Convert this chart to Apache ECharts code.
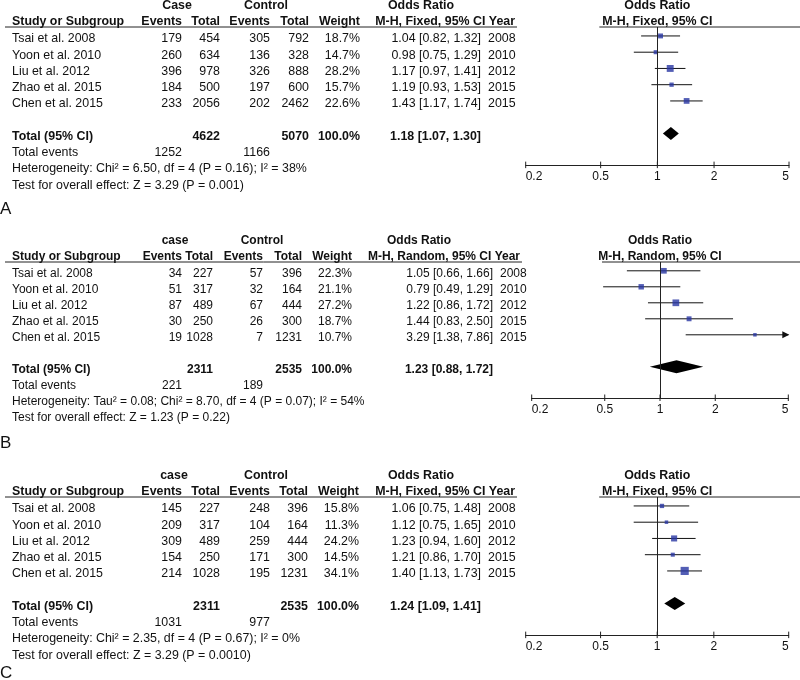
<!DOCTYPE html>
<html><head><meta charset="utf-8">
<script src="https://cdn.jsdelivr.net/npm/echarts@6/dist/echarts.min.js"></script>
<style>html,body{margin:0;padding:0;background:#fff}#c{width:800px;height:680px}</style>
</head><body><div id="c"></div>
<script>
// ---------- DATA ----------
const studies = ['Tsai et al. 2008', 'Yoon et al. 2010', 'Liu et al. 2012', 'Zhao et al. 2015', 'Chen et al. 2015'];
const years = ['2008', '2010', '2012', '2015', '2015'];
const tickValues = [0.2, 0.5, 1, 2, 5];
const tickLabels = ['0.2', '0.5', '1', '2', '5'];

// Panel A
const caseEventsA = [179, 260, 396, 184, 233];
const caseTotalA = [454, 634, 978, 500, 2056];
const ctrlEventsA = [305, 136, 326, 197, 202];
const ctrlTotalA = [792, 328, 888, 600, 2462];
const weightA = [18.7, 14.7, 28.2, 15.7, 22.6];
const orA = [1.04, 0.98, 1.17, 1.19, 1.43];
const loA = [0.82, 0.75, 0.97, 0.93, 1.17];
const hiA = [1.32, 1.29, 1.41, 1.53, 1.74];
const pooledA = [1.18, 1.07, 1.30];
const totalsA = [4622, 5070];
const totalEventsA = [1252, 1166];
const hetA = 'Heterogeneity: Chi² = 6.50, df = 4 (P = 0.16); I² = 38%';
const testA = 'Test for overall effect: Z = 3.29 (P = 0.001)';

// Panel B
const caseEventsB = [34, 51, 87, 30, 19];
const caseTotalB = [227, 317, 489, 250, 1028];
const ctrlEventsB = [57, 32, 67, 26, 7];
const ctrlTotalB = [396, 164, 444, 300, 1231];
const weightB = [22.3, 21.1, 27.2, 18.7, 10.7];
const orB = [1.05, 0.79, 1.22, 1.44, 3.29];
const loB = [0.66, 0.49, 0.86, 0.83, 1.38];
const hiB = [1.66, 1.29, 1.72, 2.50, 7.86];
const pooledB = [1.23, 0.88, 1.72];
const totalsB = [2311, 2535];
const totalEventsB = [221, 189];
const hetB = 'Heterogeneity: Tau² = 0.08; Chi² = 8.70, df = 4 (P = 0.07); I² = 54%';
const testB = 'Test for overall effect: Z = 1.23 (P = 0.22)';

// Panel C
const caseEventsC = [145, 209, 309, 154, 214];
const caseTotalC = [227, 317, 489, 250, 1028];
const ctrlEventsC = [248, 104, 259, 171, 195];
const ctrlTotalC = [396, 164, 444, 300, 1231];
const weightC = [15.8, 11.3, 24.2, 14.5, 34.1];
const orC = [1.06, 1.12, 1.23, 1.21, 1.40];
const loC = [0.75, 0.75, 0.94, 0.86, 1.13];
const hiC = [1.48, 1.65, 1.60, 1.70, 1.73];
const pooledC = [1.24, 1.09, 1.41];
const totalsC = [2311, 2535];
const totalEventsC = [1031, 977];
const hetC = 'Heterogeneity: Chi² = 2.35, df = 4 (P = 0.67); I² = 0%';
const testC = 'Test for overall effect: Z = 3.29 (P = 0.0010)';

// ---------- PANELS (built from the arrays) ----------
const panels = [
  { letter: 'A', caseHead: 'Case', method: 'M-H, Fixed, 95% CI',
    ce: caseEventsA, ct: caseTotalA, ke: ctrlEventsA, kt: ctrlTotalA, w: weightA,
    or: orA, lo: loA, hi: hiA, pooled: pooledA, totals: totalsA, tev: totalEventsA, het: hetA, test: testA,
    L: { top: 27, unit: 16.25, gl: 525.7, gw: 263.3, fs: 12.4, evR: 182, totR: 220, cevR: 270, ctotR: 309, wR: 360,
         orR: 481, yearL: 488, headR: 515, caseC: 177, ctrlC: 266, orHeadC: 421, letterY: 209 } },
  { letter: 'B', caseHead: 'case', method: 'M-H, Random, 95% CI',
    ce: caseEventsB, ct: caseTotalB, ke: ctrlEventsB, kt: ctrlTotalB, w: weightB,
    or: orB, lo: loB, hi: hiB, pooled: pooledB, totals: totalsB, tev: totalEventsB, het: hetB, test: testB,
    L: { top: 262, unit: 16, gl: 531.7, gw: 256.6, fs: 12, evR: 182, totR: 213, cevR: 263, ctotR: 302, wR: 352,
         orR: 493, yearL: 500, headR: 520, caseC: 175, ctrlC: 262, orHeadC: 419, letterY: 443 } },
  { letter: 'C', caseHead: 'case', method: 'M-H, Fixed, 95% CI',
    ce: caseEventsC, ct: caseTotalC, ke: ctrlEventsC, kt: ctrlTotalC, w: weightC,
    or: orC, lo: loC, hi: hiC, pooled: pooledC, totals: totalsC, tev: totalEventsC, het: hetC, test: testC,
    L: { top: 497, unit: 16.25, gl: 525.7, gw: 263, fs: 12.4, evR: 182, totR: 220, cevR: 270, ctotR: 308, wR: 359,
         orR: 481, yearL: 488, headR: 515, caseC: 174, ctrlC: 266, orHeadC: 421, letterY: 673 } }
];

const FONT = '"Liberation Sans", Arial, Helvetica, sans-serif';
const INK = '#111111';
const BLUE = '#2836a3';
const Y_MIN = 0.45, Y_MAX = 8.95;
const XMIN = Math.log10(tickValues[0]), XMAX = Math.log10(tickValues[tickValues.length - 1]);
const lg = Math.log10;
const fmtOR = (o, l, h) => o.toFixed(2) + ' [' + l.toFixed(2) + ', ' + h.toFixed(2) + ']';

const grids = [], xAxes = [], yAxes = [], series = [], graphics = [];

function txt(x, y, s, fs, align, bold, size) {
  graphics.push({ type: 'text', x: x, y: y, silent: true,
    style: { text: s, fill: INK, font: (bold ? 'bold ' : '') + (size || fs) + 'px ' + FONT,
             textAlign: align || 'left', textVerticalAlign: 'middle' } });
}
function hline(x1, x2, y) {
  graphics.push({ type: 'line', silent: true, shape: { x1: x1, y1: y, x2: x2, y2: y },
    style: { stroke: '#222', lineWidth: 1 } });
}

panels.forEach((p, i) => {
  const L = p.L;
  const gh = (Y_MAX - Y_MIN) * L.unit;
  grids.push({ left: L.gl, top: L.top, width: L.gw, height: gh });
  xAxes.push({ gridIndex: i, type: 'value', min: XMIN, max: XMAX,
    axisLine: { show: true, lineStyle: { color: '#222', width: 1 } },
    axisTick: { show: false }, splitLine: { show: false },
    axisLabel: { customValues: tickValues.map(lg), color: INK, fontSize: 12, fontFamily: FONT, margin: 6,
      showMinLabel: true, showMaxLabel: true, alignMinLabel: 'left', alignMaxLabel: 'right',
      formatter: v => { const k = tickValues.findIndex(t => Math.abs(lg(t) - v) < 1e-6); return k >= 0 ? tickLabels[k] : ''; } } });
  yAxes.push({ gridIndex: i, type: 'value', min: Y_MIN, max: Y_MAX, inverse: true, show: false });

  // CI lines (with arrow if out of range)
  series.push({ type: 'custom', xAxisIndex: i, yAxisIndex: i, z: 2, silent: true,
    data: p.lo.map((l, k) => [lg(l), lg(p.hi[k]), k + 1]),
    encode: { x: [0, 1], y: 2 },
    renderItem: (params, api) => {
      const lo = api.value(0), hi = api.value(1), y = api.value(2);
      const a = api.coord([Math.max(lo, XMIN), y]);
      const b = api.coord([Math.min(hi, XMAX), y]);
      const ch = [{ type: 'line', shape: { x1: a[0], y1: a[1], x2: b[0], y2: b[1] }, style: { stroke: '#111', lineWidth: 1 } }];
      if (hi > XMAX) {
        ch.push({ type: 'polygon', shape: { points: [[b[0] + 1, b[1]], [b[0] - 6, b[1] - 3.5], [b[0] - 6, b[1] + 3.5]] }, style: { fill: '#111' } });
      }
      return { type: 'group', children: ch };
    } });

  // study squares
  const sizes = p.w.map(w => Math.max(3.5, 0.21 * w + 1));
  series.push({ type: 'scatter', xAxisIndex: i, yAxisIndex: i, z: 3, silent: true,
    symbol: 'rect', symbolSize: (val, params) => sizes[params.dataIndex],
    itemStyle: { color: BLUE },
    data: p.or.map((o, k) => [lg(o), k + 1]),
    markLine: { silent: true, symbol: 'none', label: { show: false },
      lineStyle: { color: '#222', width: 1, type: 'solid' }, data: [{ xAxis: lg(1) }] } });

  // pooled diamond
  series.push({ type: 'custom', xAxisIndex: i, yAxisIndex: i, z: 3, silent: true,
    data: [[lg(p.pooled[1]), lg(p.pooled[0]), lg(p.pooled[2]), 7]],
    encode: { x: [0, 1, 2], y: 3 },
    renderItem: (params, api) => {
      const y = api.value(3);
      const l = api.coord([api.value(0), y]), m = api.coord([api.value(1), y]), h = api.coord([api.value(2), y]);
      return { type: 'polygon', shape: { points: [[l[0], l[1]], [m[0], m[1] - 6.5], [h[0], h[1]], [m[0], m[1] + 6.5]] },
        style: { fill: '#000' } };
    } });

  // axis tick marks crossing the axis line
  series.push({ type: 'custom', xAxisIndex: i, yAxisIndex: i, z: 3, silent: true, clip: false,
    data: tickValues.map(t => [lg(t), Y_MAX]),
    renderItem: (params, api) => {
      const c = api.coord([api.value(0), api.value(1)]);
      return { type: 'line', shape: { x1: c[0], y1: c[1] - 3.5, x2: c[0], y2: c[1] + 3 }, style: { stroke: '#222', lineWidth: 1 } };
    } });

  // ----- table text -----
  const fs = L.fs;
  const rowY = r => L.top + (r - Y_MIN) * L.unit + 3;
  const h1 = L.top - 21, h2 = L.top - 5.5;
  txt(L.caseC, h1, p.caseHead, fs, 'center', true);
  txt(L.ctrlC, h1, 'Control', fs, 'center', true);
  txt(L.orHeadC, h1, 'Odds Ratio', fs, 'center', true);
  const cx = L.gl + L.gw / 2;
  txt(cx, h1, 'Odds Ratio', fs, 'center', true);
  txt(12, h2, 'Study or Subgroup', fs, 'left', true);
  txt(L.evR, h2, 'Events', fs, 'right', true);
  txt(L.totR, h2, 'Total', fs, 'right', true);
  txt(L.cevR, h2, 'Events', fs, 'right', true);
  txt(L.ctotR, h2, 'Total', fs, 'right', true);
  txt(L.wR, h2, 'Weight', fs, 'right', true);
  txt(L.headR, h2, p.method + ' Year', fs, 'right', true);
  txt(cx, h2, p.method, fs, 'center', true);
  hline(5, L.headR + 2, L.top);
  hline(cx - 58, 800, L.top);

  studies.forEach((s, k) => {
    const y = rowY(k + 1);
    txt(12, y, s, fs);
    txt(L.evR, y, String(p.ce[k]), fs, 'right');
    txt(L.totR, y, String(p.ct[k]), fs, 'right');
    txt(L.cevR, y, String(p.ke[k]), fs, 'right');
    txt(L.ctotR, y, String(p.kt[k]), fs, 'right');
    txt(L.wR, y, p.w[k].toFixed(1) + '%', fs, 'right');
    txt(L.orR, y, fmtOR(p.or[k], p.lo[k], p.hi[k]), fs, 'right');
    txt(L.yearL, y, years[k], fs, 'left');
  });
  const yt = rowY(7);
  txt(12, yt, 'Total (95% CI)', fs, 'left', true);
  txt(L.totR, yt, String(p.totals[0]), fs, 'right', true);
  txt(L.ctotR, yt, String(p.totals[1]), fs, 'right', true);
  txt(L.wR, yt, '100.0%', fs, 'right', true);
  txt(L.orR, yt, fmtOR(p.pooled[0], p.pooled[1], p.pooled[2]), fs, 'right', true);
  const ye = rowY(8);
  txt(12, ye, 'Total events', fs);
  txt(L.evR, ye, String(p.tev[0]), fs, 'right');
  txt(L.cevR, ye, String(p.tev[1]), fs, 'right');
  txt(12, rowY(9), p.het, fs);
  txt(12, rowY(10), p.test, fs);
  txt(0, L.letterY, p.letter, fs, 'left', false, 17);
});

const chart = echarts.init(document.getElementById('c'), null, { renderer: 'canvas' });
chart.setOption({
  animation: false,
  backgroundColor: '#ffffff',
  textStyle: { fontFamily: FONT },
  grid: grids, xAxis: xAxes, yAxis: yAxes, series: series,
  graphic: { elements: graphics }
});
</script></body></html>
